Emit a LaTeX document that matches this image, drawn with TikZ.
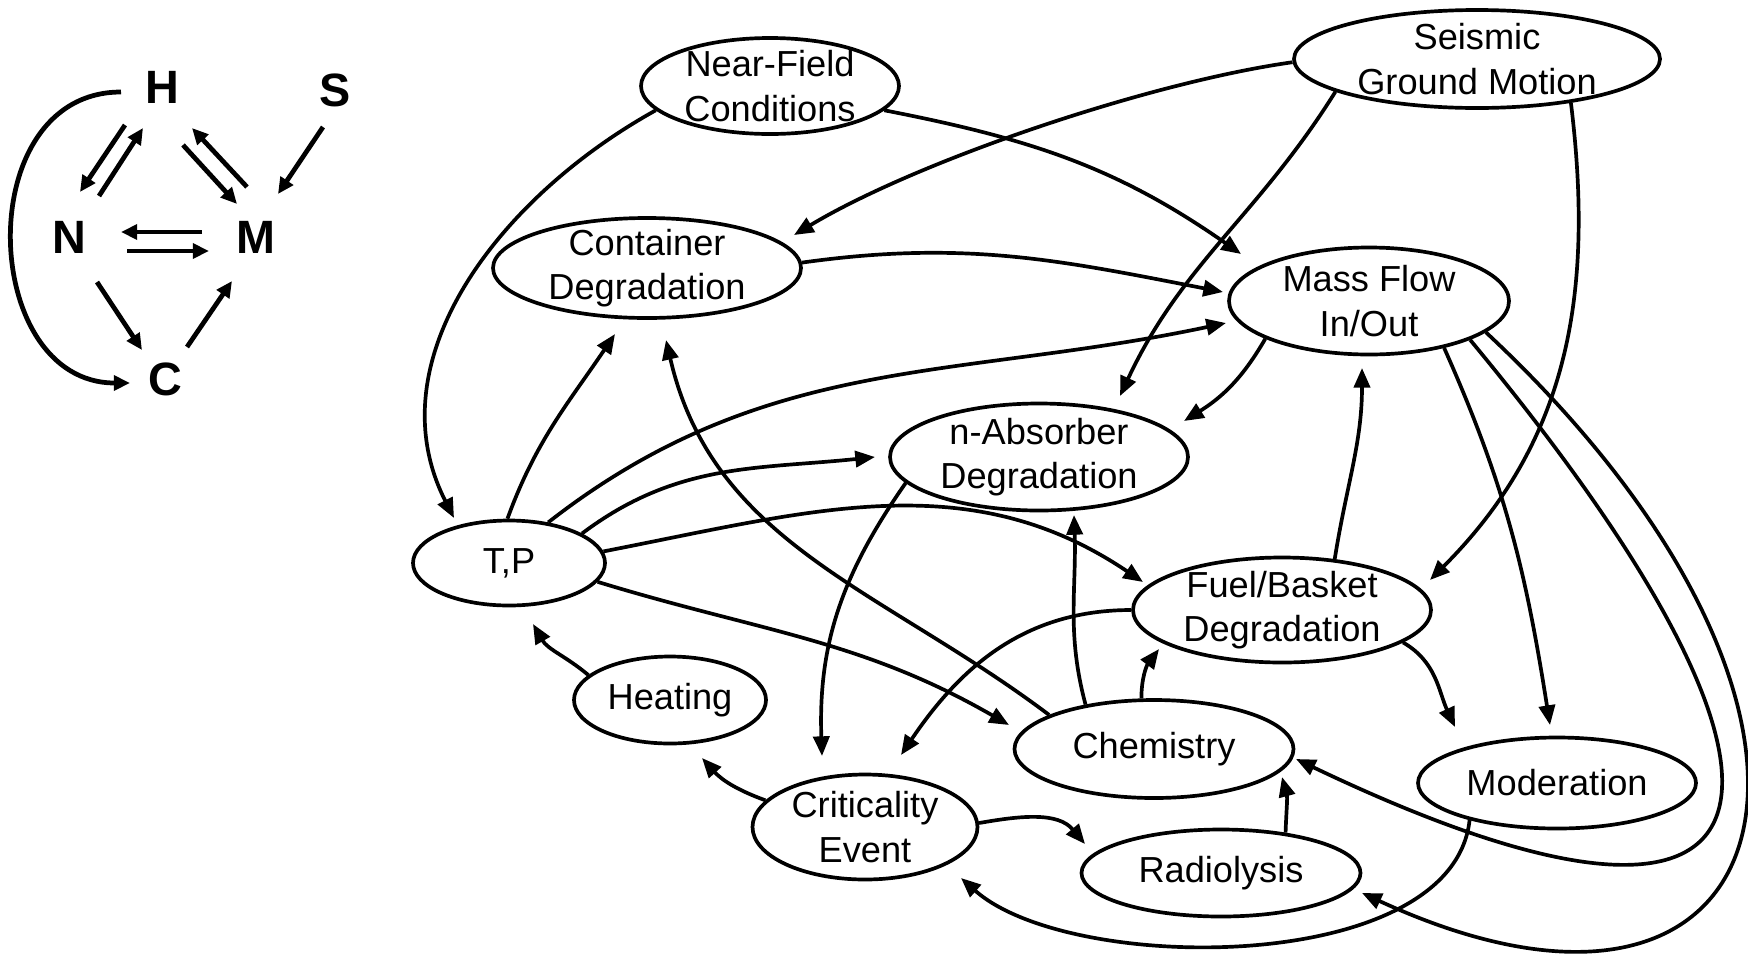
\documentclass[tikz,border=0pt]{standalone}
\usepackage{fontspec}
\setmainfont{Liberation Sans}
\usetikzlibrary{arrows.meta,shapes.geometric}

\begin{document}
\begin{tikzpicture}[x=0.1mm,y=0.1mm,
    state/.style={draw,ellipse,line width=1.05pt,inner xsep=0pt,inner ysep=-4pt,align=center,font=\fontsize{10.3}{12.7}\selectfont},
    arr/.style={line width=1.05pt,-{Triangle[length=5.6pt,width=4.6pt]}},
    letter/.style={inner sep=0pt,font=\fontsize{13.3}{16}\selectfont\bfseries},
    small/.style={line width=1.35pt,-{Triangle[length=4.6pt,width=4.2pt]}}]
    \useasboundingbox (0,0) rectangle (1748,-957);
    % key
    \node[letter] (H) at (162,-87) {H};
    \node[letter] (S) at (335,-90) {S};
    \node[letter] (N) at (69,-237) {N};
    \node[letter] (M) at (256,-237) {M};
    \node[letter] (C) at (165,-379) {C};
    \draw[small] ([shift={(-37,-38)}]H.center) -- ([shift={(11,45)}]N.center);
    \draw[small] ([shift={(30,41)}]N.center) -- ([shift={(-19,-41)}]H.center);
    \draw[small] ([shift={(-9,50)}]M.center) -- ([shift={(30,-41)}]H.center);
    \draw[small] ([shift={(21,-58)}]H.center) -- ([shift={(-19,33)}]M.center);
    \draw[small] ([shift={(-12,-37)}]S.center) -- ([shift={(22,43)}]M.center);
    \draw[small] ([shift={(-54,5)}]M.center) -- ([shift={(52,5)}]N.center);
    \draw[small] ([shift={(58,-14)}]N.center) -- ([shift={(-47,-14)}]M.center);
    \draw[small] ([shift={(28,-45)}]N.center) -- ([shift={(-23,29)}]C.center);
    \draw[small] ([shift={(22,32)}]C.center) -- ([shift={(-24,-44)}]M.center);
    \draw[small] ([shift={(-41,-5)}]H.center) .. controls +(-151,0) and +(-151,0) .. ([shift={(-35,-4)}]C.center);
    % states
    \node[state,minimum width=25.8mm,minimum height=9.6mm] (NF) at (770,-86) {Near-Field\\Conditions};
    \node[state,minimum width=36.6mm,minimum height=9.8mm] (SG) at (1477,-59) {Seismic\\Ground Motion};
    \node[state,minimum width=30.8mm,minimum height=10mm] (CD) at (647,-268) {Container\\Degradation};
    \node[state,minimum width=28mm,minimum height=10.7mm] (MF) at (1369,-301) {Mass Flow\\In/Out};
    \node[state,minimum width=29.8mm,minimum height=10.7mm] (NA) at (1039,-457) {n-Absorber\\Degradation};
    \node[state,minimum width=19.2mm,minimum height=8.5mm] (TP) at (509,-563) {T,P};
    \node[state,minimum width=29.8mm,minimum height=10.5mm] (FB) at (1282,-610) {Fuel/Basket\\Degradation};
    \node[state,minimum width=19.2mm,minimum height=8.7mm] (HT) at (670,-700) {Heating};
    \node[state,minimum width=27.9mm,minimum height=9.8mm] (CH) at (1154,-749) {Chemistry};
    \node[state,minimum width=27.8mm,minimum height=9.1mm] (MO) at (1557,-783) {Moderation};
    \node[state,minimum width=22.5mm,minimum height=10.5mm] (CE) at (865,-827) {Criticality\\Event};
    \node[state,minimum width=27.9mm,minimum height=8.7mm] (RA) at (1221,-873) {Radiolysis};
    % outside
    \draw[arr] (NF.192) to[out=209,in=117] ([shift={(-55,45)}]TP.center);
    \draw[arr] (NF.348) to[out=349,in=145] ([shift={(-128,47)}]MF.center);
    \draw[arr] (SG.181) to[out=188,in=31,looseness=0.7] ([shift={(147,33)}]CD.center);
    \draw[arr] (SG.193) to[out=238,in=65] ([shift={(81,61)}]NA.center);
    \draw[arr] (SG.335) to[out=277,in=45] ([shift={(148,30)}]FB.center);
    % T,P
    \draw[arr] (CD.2) to[out=8,in=169] ([shift={(-146,9)}]MF.center);
    \draw[arr] (TP.92) to[out=70,in=236] ([shift={(-32,-66)}]CD.center);
    \draw[arr] (TP.46) to[out=38,in=192] ([shift={(-143,-22)}]MF.center);
    \draw[arr] (TP.22) to[out=37,in=186] ([shift={(-164,0)}]NA.center);
    \draw[arr] (TP.7) to[out=11,in=146] ([shift={(-139,28)}]FB.center);
    \draw[arr] (TP.348) to[out=-17,in=150] ([shift={(-145,24)}]CH.center);
    % chemistry
    \draw[arr] (CH.162) to[out=143,in=283] ([shift={(19,-72)}]CD.center);
    \draw[arr] (CH.147) to[out=105,in=272] ([shift={(35,-58)}]NA.center);
    \draw[arr] (CH.104) to[out=90,in=233] ([shift={(-123,-39)}]FB.center);
    \draw[arr] (RA.32) to[out=88,in=285] ([shift={(128,-28)}]CH.center);
    % mass flow
    \draw[arr] (MF.200) to[out=240,in=32] ([shift={(145,36)}]NA.center);
    \draw[arr] (MF.328) to[out=294,in=99] ([shift={(-7,58)}]MO.center);
    \draw[arr] (FB.44) to[out=81,in=270] ([shift={(-7,-67)}]MF.center);
    \draw[arr] (MF.339) .. controls +(382,-461) and +(504,-241) .. ([shift={(142,-10)}]CH.center);
    \draw[arr] (MF.345) .. controls +(416,-388) and +(428,-197) .. ([shift={(141,-20)}]RA.center);
    % criticality
    \draw[arr] (NA.191) to[out=235,in=92] ([shift={(-43,71)}]CE.center);
    \draw[arr] (FB.180) to[out=180,in=56] ([shift={(36,72)}]CE.center);
    \draw[arr] (FB.345) to[out=330,in=115] ([shift={(-102,56)}]MO.center);
    \draw[arr] (MO.203) .. controls +(-17,-156) and +(109,-97) .. ([shift={(96,-51)}]CE.center);
    \draw[arr] (CE.2) to[out=10,in=130] ([shift={(-136,29)}]RA.center);
    \draw[arr] (CE.165) to[out=160,in=312] ([shift={(32,-58)}]HT.center);
    \draw[arr] (HT.163) to[out=140,in=300] ([shift={(24,-61)}]TP.center);
\end{tikzpicture}
\end{document}
